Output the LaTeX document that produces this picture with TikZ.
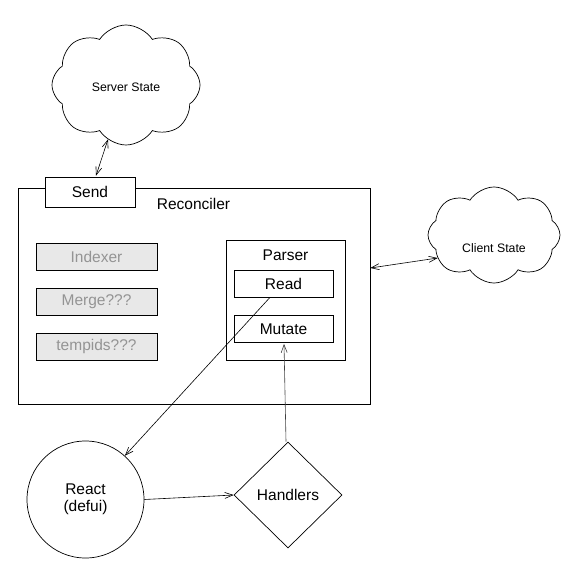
\documentclass[tikz,border=0pt]{standalone}
\usepackage{fontspec}
\setmainfont{Liberation Sans}
\usetikzlibrary{shapes.geometric,shapes.symbols,arrows.meta}
\begin{document}
\begin{tikzpicture}[x=1pt,y=-1pt,
  box/.style={draw=black,line width=0.7pt,rectangle,inner sep=0pt,font=\fontsize{15.5}{17}\selectfont},
  ghost/.style={box,fill=black!9,text=black!42},
  cloudnode/.style={draw=black,line width=0.7pt,cloud,cloud puffs=8,cloud puff arc=115,inner sep=0pt},
  cloudtext/.style={inner sep=0pt,font=\fontsize{12.3}{14}\selectfont},
  arr/.style={line width=0.6pt,-{Straight Barb[length=8pt,width=6pt]}},
  darr/.style={line width=0.6pt,{Straight Barb[length=8pt,width=6pt]}-{Straight Barb[length=8pt,width=6pt]}}]
\useasboundingbox (0,0) rectangle (576,585);
\node[cloudnode,minimum width=148pt,minimum height=120pt] (srv) at (126,85) {};
\node[cloudtext] (srvtext) at (126,87) {Server State};
\node[cloudnode,minimum width=132pt,minimum height=96pt] (cli) at (494,235) {};
\node[cloudtext] (clitext) at (494,248) {Client State};
\node[box,minimum width=352pt,minimum height=216pt] (rec) at (194,296.5) {};
\node[box,fill=white,minimum width=90pt,minimum height=30pt] (send) at (90,192) {Send};
\node[font=\fontsize{15.5}{17}\selectfont,inner sep=0pt] (reclabel) at (193.5,204) {Reconciler};
\node[ghost,minimum width=121pt,minimum height=27pt] (idx) at (96.5,256.5) {Indexer};
\node[ghost,minimum width=121pt,minimum height=27pt] (mrg) at (96.5,301.5) {Merge???};
\node[ghost,minimum width=121pt,minimum height=27pt] (tmp) at (96.5,346.5) {tempids???};
\node[box,minimum width=119pt,minimum height=120pt] (par) at (285.5,300) {};
\node[font=\fontsize{15.5}{17}\selectfont,inner sep=0pt] (parlabel) at (285.5,255) {Parser};
\node[box,minimum width=99pt,minimum height=27pt] (read) at (283.5,283.5) {Read};
\node[box,minimum width=99pt,minimum height=27pt] (mut) at (283.5,329) {Mutate};
\node[box,circle,minimum size=117pt,align=center] (react) at (85.5,499.5) {React\\(defui)};
\node[box,diamond,minimum width=108pt,minimum height=106pt] (hand) at (288,495) {Handlers};
\draw[darr] ([xshift=-18pt,yshift=6pt]srv.south) -- ([xshift=6pt,yshift=1pt]send.north);
\draw[darr] ([yshift=28.5pt]rec.east) -- ([xshift=10pt,yshift=-23pt]cli.west);
\draw[arr] ([xshift=-13.5pt]read.south) -- (react.48);
\draw[arr] (react.east) -- (hand.west);
\draw[arr,draw=black!75] ([xshift=-2pt]hand.north) -- ([xshift=0.5pt,yshift=-1pt]mut.south);
\end{tikzpicture}
\end{document}
